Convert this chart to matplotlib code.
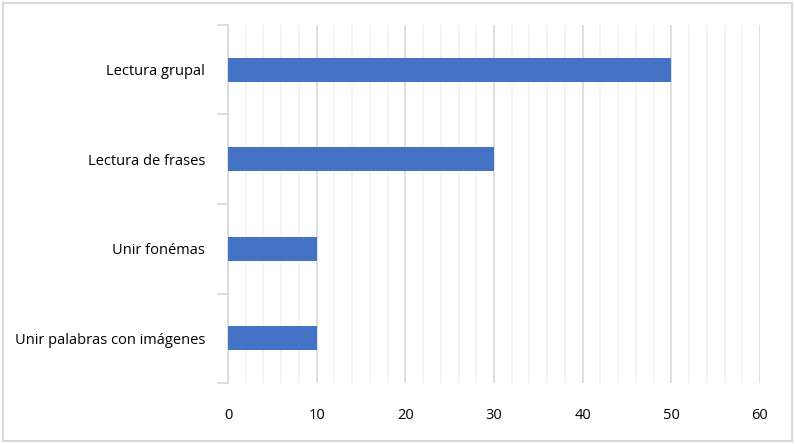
import matplotlib
matplotlib.use("Agg")
import matplotlib.pyplot as plt
from matplotlib.patches import FancyBboxPatch
import numpy as np

categories = ["Lectura grupal", "Lectura de frases", "Unir fonémas", "Unir palabras con imágenes"]
values = [50, 30, 10, 10]
xticks = [0, 10, 20, 30, 40, 50, 60]

plt.rcParams['font.family'] = ['Open Sans', 'DejaVu Sans']

fig = plt.figure(figsize=(7.95, 4.44), dpi=100)
ax = fig.add_axes([228/795, 61/444, 532/795, 358/444])

y = np.arange(len(categories))
ax.barh(y, values, height=0.27, color="#4472C4", zorder=3)
ax.set_ylim(len(categories) - 0.5, -0.5)
ax.set_xlim(0, 60)

ax.set_xticks(xticks)
ax.set_xticks(np.arange(0, 61, 2), minor=True)
ax.grid(axis='x', which='major', color='#d9d9d9', linewidth=1.2, zorder=0)
ax.grid(axis='x', which='minor', color='#f2f2f2', linewidth=1.2, zorder=0)
ax.tick_params(axis='x', which='both', length=0, pad=18, labelsize=10.5, colors='#000000')

ax.set_yticks(y)
ax.set_yticklabels(categories)
ax.set_yticks(np.arange(-0.5, len(categories), 1), minor=True)
ax.tick_params(axis='y', which='major', length=0, pad=16.5, labelsize=10.5)
ax.tick_params(axis='y', which='minor', length=8, color='#d9d9d9', width=1.2)

for s in ['top', 'right', 'bottom']:
    ax.spines[s].set_visible(False)
ax.spines['left'].set_color('#d9d9d9')
ax.spines['left'].set_linewidth(1.2)

border = FancyBboxPatch((3/795, 3/444), 789/795, 438/444, boxstyle="square,pad=0",
                        transform=fig.transFigure, fill=False, edgecolor='#d9d9d9', linewidth=1.5)
fig.patches.append(border)

fig.savefig("out.png", dpi=100)
